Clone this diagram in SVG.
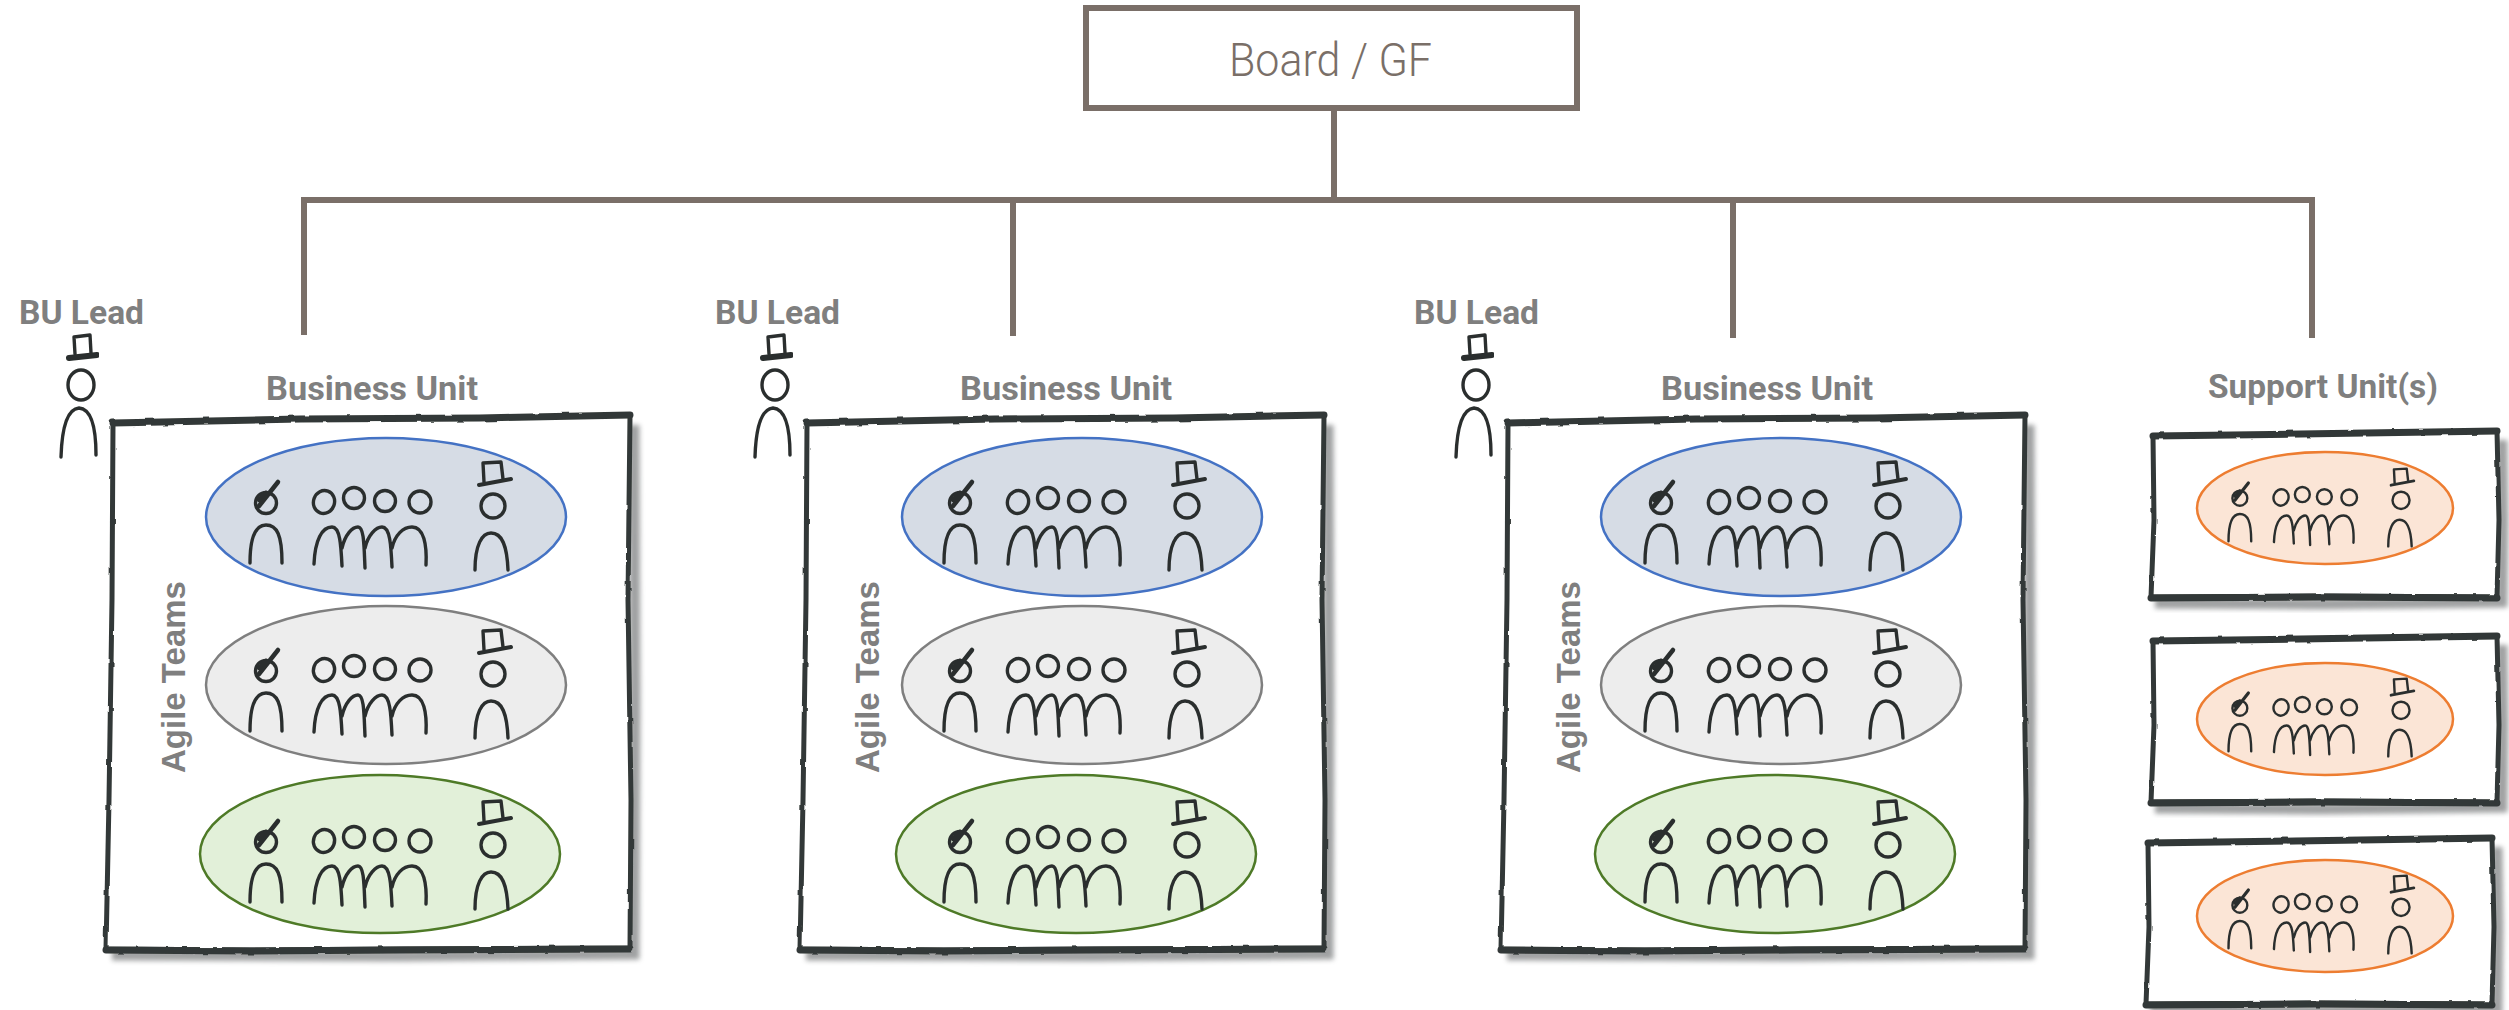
<svg xmlns="http://www.w3.org/2000/svg" width="2509" height="1010" viewBox="0 0 2509 1010">
<style>
.lbl{font-family:"Roboto","Liberation Sans",sans-serif;font-weight:700;font-size:34px;fill:#7f7f7f}
.agile{font-family:"Liberation Sans",Arial,sans-serif;font-weight:700;font-size:33px;fill:#7f7f7f}
.board{font-family:"Roboto","Liberation Sans",sans-serif;font-weight:300;font-size:47px;fill:#7a6f68}
.conn{fill:none;stroke:#7a6f68;stroke-width:6}
.ink{fill:none;stroke:#2b2f2e;stroke-width:3.400;stroke-linecap:round;stroke-linejoin:round}
.box{fill:#fff;stroke:#333937;stroke-width:5;stroke-linejoin:round}
.thick{fill:none;stroke:#333937;stroke-width:7;stroke-linecap:round}
.shadow{fill:none;stroke:#77797a;stroke-width:11;opacity:.7}
.blue{fill:#d6dce5;stroke:#4472c4;stroke-width:2.500}
.grey{fill:#ededed;stroke:#7f7f7f;stroke-width:2.500}
.green{fill:#e2f0d9;stroke:#4e7a27;stroke-width:2.500}
.orange{fill:#fbe5d6;stroke:#ed7d31;stroke-width:2.500}
</style>
<defs>
<filter id="rough" x="-5%" y="-5%" width="110%" height="110%">
<feTurbulence type="fractalNoise" baseFrequency="0.07" numOctaves="2" seed="4"/>
<feDisplacementMap in="SourceGraphic" scale="2.500"/>
</filter>
<filter id="soft" x="-5%" y="-5%" width="110%" height="110%"><feGaussianBlur stdDeviation="2.500"/></filter>
<filter id="pencil" x="-5%" y="-5%" width="110%" height="110%"><feGaussianBlur stdDeviation="0.500"/></filter>
<g id="bigbox">
<path class="shadow" filter="url(#soft)" d="M112 955L400 956L634 954L635 700L634 425"/>
<path class="box" filter="url(#rough)" d="M113 423L300 419L480 418L630 415L628 600L631 800L630 948L400 949L250 950L106 949L109 800L112 600Z"/>
<path class="thick" filter="url(#rough)" d="M113 423L300 419L480 418L630 415M630 949L400 950L250 951L106 950"/>
</g>
<g id="smallbox">
<path class="shadow" filter="url(#soft)" d="M2155 603L2320 604L2502 602L2503 520L2502 440"/>
<path class="box" filter="url(#rough)" d="M2153 436L2300 434L2497 431L2499 520L2497 597L2320 596L2151 597L2154 520Z"/>
<path class="thick" filter="url(#rough)" d="M2153 436L2300 434L2497 431M2497 598L2320 597L2151 598"/>
</g>
<g id="lead" class="ink" filter="url(#pencil)">
<path d="M69 358L97 355" stroke-width="6"/><path d="M75 354L74 337L90 335L91 353"/>
<ellipse cx="81" cy="385" rx="13" ry="15"/>
<path d="M61 457C62 425 68 409 79 408C92 409 96 430 96 455"/>
</g>
<g id="team" class="ink" filter="url(#pencil)">
<circle cx="266" cy="503" r="10.500"/><path d="M259 506L278 482M259 500L266 493" stroke-width="4.500"/>
<path d="M250 563C250 535 256 525 266 525C277 525 282 535 282 563"/>
<ellipse cx="324" cy="502" rx="10.500" ry="11.500" transform="rotate(20 324 502)"/><circle cx="354" cy="498" r="10.500"/><circle cx="385" cy="501" r="10.500"/><circle cx="420" cy="502" r="11"/>
<path d="M314 564C315 540 322 527 332 527C340 527 341 545 342 566M342 548C345 535 352 527 358 527C364 527 364 545 365 568M365 548C368 535 376 527 382 527C390 527 391 545 392 567M392 548C395 535 403 527 412 527C424 527 427 545 426 565"/>
<path d="M479 485L511 479" stroke-width="4"/><path d="M484 482L483 463L501 462L503 479"/>
<circle cx="493" cy="506" r="12"/>
<path d="M475 570C475 545 482 533 491 533C502 533 507 545 508 570"/>
</g>
</defs>

<g id="connectors">
<path class="conn" d="M1334 108V200M304 335V200H2312V338M1013 200V336M1733 200V338"/>
</g>

<g id="board"><rect x="1086" y="8" width="491" height="100" fill="#fff" stroke="#7a6f68" stroke-width="6"/><text class="board" x="1229" y="76" textLength="203" lengthAdjust="spacingAndGlyphs">Board / GF</text></g>

<g id="bu1">
<use href="#bigbox"/>
<text class="lbl" x="266" y="400" textLength="212" lengthAdjust="spacingAndGlyphs">Business Unit</text>
<text class="agile" transform="translate(185 773) rotate(-90)">Agile Teams</text>
</g>
<g id="bu1-lead"><text class="lbl" x="19" y="324" textLength="125" lengthAdjust="spacingAndGlyphs">BU Lead</text><use href="#lead"/></g>
<g id="bu1-team1"><ellipse class="blue" cx="386" cy="517" rx="180" ry="79"/><use href="#team"/></g>
<g id="bu1-team2"><ellipse class="grey" cx="386" cy="685" rx="180" ry="79"/><use href="#team" y="168"/></g>
<g id="bu1-team3"><ellipse class="green" cx="380" cy="854" rx="180" ry="79"/><use href="#team" y="339"/></g>

<g id="bu2">
<use href="#bigbox" x="694"/>
<text class="lbl" x="960" y="400" textLength="212" lengthAdjust="spacingAndGlyphs">Business Unit</text>
<text class="agile" transform="translate(879 773) rotate(-90)">Agile Teams</text>
</g>
<g id="bu2-lead"><text class="lbl" x="715" y="324" textLength="125" lengthAdjust="spacingAndGlyphs">BU Lead</text><use href="#lead" x="694"/></g>
<g id="bu2-team1"><ellipse class="blue" cx="1082" cy="517" rx="180" ry="79"/><use href="#team" x="694"/></g>
<g id="bu2-team2"><ellipse class="grey" cx="1082" cy="685" rx="180" ry="79"/><use href="#team" x="694" y="168"/></g>
<g id="bu2-team3"><ellipse class="green" cx="1076" cy="854" rx="180" ry="79"/><use href="#team" x="694" y="339"/></g>

<g id="bu3">
<use href="#bigbox" x="1395"/>
<text class="lbl" x="1661" y="400" textLength="212" lengthAdjust="spacingAndGlyphs">Business Unit</text>
<text class="agile" transform="translate(1580 773) rotate(-90)">Agile Teams</text>
</g>
<g id="bu3-lead"><text class="lbl" x="1414" y="324" textLength="125" lengthAdjust="spacingAndGlyphs">BU Lead</text><use href="#lead" x="1395"/></g>
<g id="bu3-team1"><ellipse class="blue" cx="1781" cy="517" rx="180" ry="79"/><use href="#team" x="1395"/></g>
<g id="bu3-team2"><ellipse class="grey" cx="1781" cy="685" rx="180" ry="79"/><use href="#team" x="1395" y="168"/></g>
<g id="bu3-team3"><ellipse class="green" cx="1775" cy="854" rx="180" ry="79"/><use href="#team" x="1395" y="339"/></g>

<g id="support"><text class="lbl" x="2208" y="398" textLength="230" lengthAdjust="spacingAndGlyphs">Support Unit(s)</text></g>
<g id="su1"><use href="#smallbox"/><ellipse class="orange" cx="2325" cy="508" rx="128" ry="56"/><use href="#team" transform="translate(2051 136) scale(.71 .72)"/></g>
<g id="su2"><use href="#smallbox" y="205"/><ellipse class="orange" cx="2325" cy="719" rx="128" ry="56"/><use href="#team" transform="translate(2051 346) scale(.71 .72)"/></g>
<g id="su3"><use href="#smallbox" x="-5" y="407"/><ellipse class="orange" cx="2325" cy="916" rx="128" ry="56"/><use href="#team" transform="translate(2051 543) scale(.71 .72)"/></g>
</svg>
